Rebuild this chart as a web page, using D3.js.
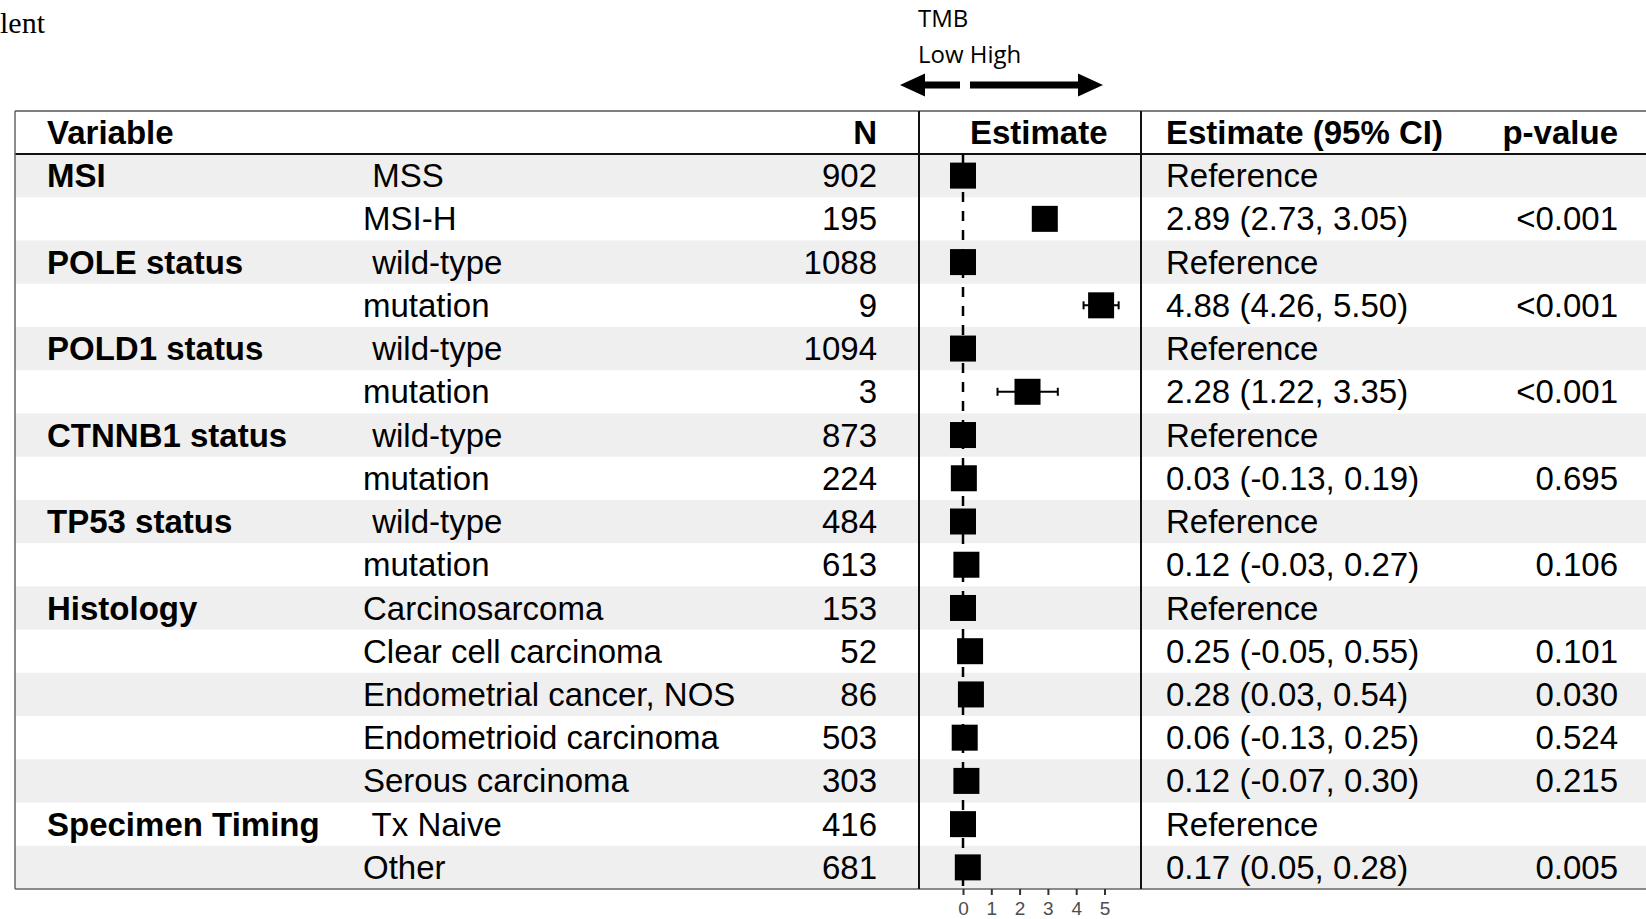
<!DOCTYPE html>
<html>
<head>
<meta charset="utf-8">
<title>TMB forest plot</title>
<style>
  body { margin: 0; background: #fff; }
  svg text { font-family: "Liberation Sans", Arial, sans-serif; white-space: pre; }
</style>
</head>
<body>
<div id="chart"></div>
<script src="https://cdn.jsdelivr.net/npm/d3@7"></script>
<script>
var groups = ["MSI", "", "POLE status", "", "POLD1 status", "", "CTNNB1 status", "",
              "TP53 status", "", "Histology", "", "", "", "", "Specimen Timing", ""];
var subgroups = [" MSS", "MSI-H", " wild-type", "mutation", " wild-type", "mutation",
                 " wild-type", "mutation", " wild-type", "mutation", "Carcinosarcoma",
                 "Clear cell carcinoma", "Endometrial cancer, NOS", "Endometrioid carcinoma",
                 "Serous carcinoma", " Tx Naive", "Other"];
var counts = [902, 195, 1088, 9, 1094, 3, 873, 224, 484, 613, 153, 52, 86, 503, 303, 416, 681];
// null = reference level (drawn at 0)
var estimates = [null, 2.89, null, 4.88, null, 2.28, null, 0.03, null, 0.12, null, 0.25, 0.28, 0.06, 0.12, null, 0.17];
var lower     = [null, 2.73, null, 4.26, null, 1.22, null, -0.13, null, -0.03, null, -0.05, 0.03, -0.13, -0.07, null, 0.05];
var upper     = [null, 3.05, null, 5.50, null, 3.35, null, 0.19, null, 0.27, null, 0.55, 0.54, 0.25, 0.30, null, 0.28];
var pvalues   = ["", "<0.001", "", "<0.001", "", "<0.001", "", "0.695", "", "0.106", "", "0.101", "0.030", "0.524", "0.215", "", "0.005"];
var xTicks = [0, 1, 2, 3, 4, 5];

var W = 1646, H = 919;
var tableLeft = 15, headTop = 111, headBottom = 154, tableBottom = 889;
var panelLeft = 919, panelRight = 1141;
var fs = 33;

var svg = d3.select("#chart").append("svg")
    .attr("width", W).attr("height", H);

var rows = d3.range(subgroups.length);
var y = d3.scaleBand().domain(rows).range([headBottom, tableBottom]);
var x = d3.scaleLinear().domain([0, 5]).range([963, 1104.5]);

function fmt(v) { return v.toFixed(2); }

// text cut off at the top-left of the page
svg.append("text").attr("x", 0).attr("y", 33)
    .style("font-family", "'Liberation Serif', 'Times New Roman', serif")
    .style("font-size", "30px").text("lent");

// stripes
svg.selectAll("rect.band").data(rows.filter(function(i){ return i % 2 == 0; }))
  .enter().append("rect")
    .attr("class", "band")
    .attr("x", tableLeft).attr("width", W - tableLeft)
    .attr("y", function(i){ return y(i); })
    .attr("height", y.bandwidth())
    .attr("fill", "#efefef");

// borders
svg.append("line").attr("x1", tableLeft).attr("x2", W).attr("y1", headTop).attr("y2", headTop)
    .attr("stroke", "#555").attr("stroke-width", 1.5);
svg.append("line").attr("x1", tableLeft).attr("x2", W).attr("y1", headBottom).attr("y2", headBottom)
    .attr("stroke", "#111").attr("stroke-width", 2.2);
svg.append("line").attr("x1", tableLeft).attr("x2", W).attr("y1", tableBottom).attr("y2", tableBottom)
    .attr("stroke", "#666").attr("stroke-width", 1.5);
svg.append("line").attr("x1", tableLeft).attr("x2", tableLeft).attr("y1", headTop).attr("y2", tableBottom)
    .attr("stroke", "#666").attr("stroke-width", 1.5);
[panelLeft, panelRight].forEach(function(px){
  svg.append("line").attr("x1", px).attr("x2", px).attr("y1", headTop).attr("y2", tableBottom)
      .attr("stroke", "#111").attr("stroke-width", 2);
});

// header
var head = svg.append("g").style("font-weight", "bold").style("font-size", fs + "px");
var hy = (headTop + headBottom) / 2;
head.append("text").attr("x", 47).attr("y", hy).attr("dy", "0.35em").text("Variable");
head.append("text").attr("x", 877).attr("y", hy).attr("dy", "0.35em").attr("text-anchor", "end").text("N");
head.append("text").attr("x", 970).attr("y", hy).attr("dy", "0.35em").text("Estimate");
head.append("text").attr("x", 1166).attr("y", hy).attr("dy", "0.35em").text("Estimate (95% CI)");
head.append("text").attr("x", 1618).attr("y", hy).attr("dy", "0.35em").attr("text-anchor", "end").text("p-value");

// body text
var body = svg.append("g").style("font-size", fs + "px");
function col(vals, xpos, anchor, bold) {
  body.append("g").selectAll("text").data(vals).enter().append("text")
      .attr("x", xpos)
      .attr("y", function(d, i){ return y(i) + y.bandwidth() / 2; })
      .attr("dy", "0.35em")
      .attr("text-anchor", anchor)
      .style("font-weight", bold ? "bold" : "normal")
      .text(function(d){ return d; });
}
col(groups, 47, "start", true);
col(subgroups, 363, "start", false);
col(counts, 877, "end", false);
col(rows.map(function(i){
  return estimates[i] == null ? "Reference"
    : fmt(estimates[i]) + " (" + fmt(lower[i]) + ", " + fmt(upper[i]) + ")";
}), 1166, "start", false);
col(pvalues, 1618, "end", false);

// zero line
svg.append("line")
    .attr("x1", x(0)).attr("x2", x(0))
    .attr("y1", headBottom).attr("y2", tableBottom)
    .attr("stroke", "#000").attr("stroke-width", 2.5)
    .attr("stroke-dasharray", "10,9");

// CI whiskers
var ci = svg.append("g").attr("stroke", "#000").attr("stroke-width", 2);
rows.filter(function(i){ return estimates[i] != null; }).forEach(function(i){
  var cy = y(i) + y.bandwidth() / 2;
  ci.append("line").attr("x1", x(lower[i])).attr("x2", x(upper[i])).attr("y1", cy).attr("y2", cy);
  ci.append("line").attr("x1", x(lower[i])).attr("x2", x(lower[i])).attr("y1", cy - 4).attr("y2", cy + 4);
  ci.append("line").attr("x1", x(upper[i])).attr("x2", x(upper[i])).attr("y1", cy - 4).attr("y2", cy + 4);
});

// boxes
var box = 26;
svg.append("g").selectAll("rect").data(rows).enter().append("rect")
    .attr("x", function(i){ return x(estimates[i] == null ? 0 : estimates[i]) - box / 2; })
    .attr("y", function(i){ return y(i) + y.bandwidth() / 2 - box / 2; })
    .attr("width", box).attr("height", box)
    .attr("fill", "#000");

// x axis
var axis = svg.append("g")
    .attr("transform", "translate(0," + tableBottom + ")")
    .call(d3.axisBottom(x).tickValues(xTicks).tickFormat(d3.format("d")).tickSize(6).tickPadding(7));
axis.select(".domain").remove();
axis.selectAll("line").attr("stroke", "#333").attr("stroke-width", 2);
axis.selectAll("text")
    .style("font-family", "'Liberation Sans', Arial, sans-serif")
    .style("font-size", "19px").attr("fill", "#4d4d4d");

// TMB direction arrows
var dir = svg.append("g");
dir.append("text").attr("x", 918).attr("y", 27)
    .style("font-family", "'Open Sans', sans-serif").style("font-size", "24px").text("TMB");
dir.append("text").attr("x", 918).attr("y", 63)
    .style("font-family", "'Open Sans', sans-serif").style("font-size", "24px").text("Low High");
var ay = 85;
dir.append("path")
    .attr("d", "M900," + ay + "L925," + (ay - 11.5) + "V" + (ay - 3.5) + "H960V" + (ay + 3.5) +
               "H925V" + (ay + 11.5) + "Z")
    .attr("fill", "#000");
dir.append("path")
    .attr("d", "M1103," + ay + "L1078," + (ay - 11.5) + "V" + (ay - 3.5) + "H970V" + (ay + 3.5) +
               "H1078V" + (ay + 11.5) + "Z")
    .attr("fill", "#000");
</script>
</body>
</html>
